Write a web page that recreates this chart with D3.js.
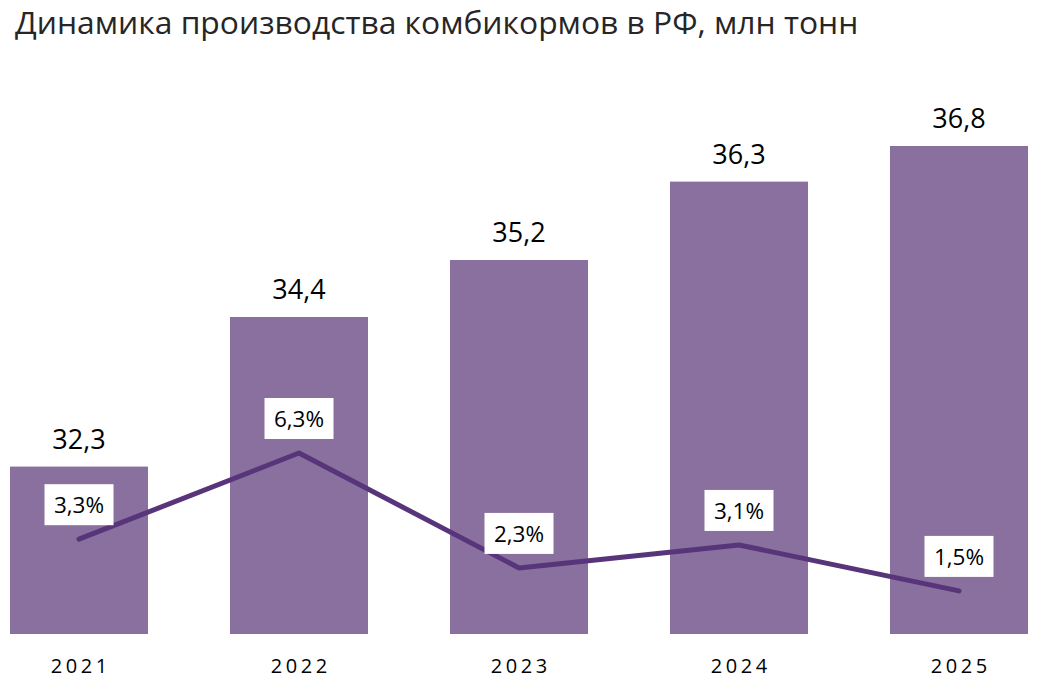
<!DOCTYPE html>
<html><head><meta charset="utf-8">
<script src="https://cdn.jsdelivr.net/npm/d3@7/dist/d3.min.js"></script>
<style>
html,body{margin:0;padding:0;background:#fff;}
svg{display:block;font-family:"Open Sans",sans-serif;}
</style></head>
<body>
<svg id="c" width="1037" height="689"></svg>
<script>
const title = "Динамика производства комбикормов в РФ, млн тонн";
const years = ["2021","2022","2023","2024","2025"];
const volumes = [32.3, 34.4, 35.2, 36.3, 36.8];
const growth = [3.3, 6.3, 2.3, 3.1, 1.5];

const fmt = v => String(v).replace(".", ",");
const svg = d3.select("#c");

const x = d3.scaleBand().domain(years).range([-31, 1069]).paddingInner(0.3727).paddingOuter(0.1864);
const y = d3.scaleLinear().domain([29.95, 36.8]).range([634, 146]);
const y2 = d3.scaleLinear().domain([0, 6.3]).range([634, 453]);

svg.append("text").attr("x", 15).attr("y", 34)
  .attr("font-size", 31.8).attr("fill", "#262626").text(title);

svg.append("g").selectAll("rect").data(years).join("rect")
  .attr("x", d => x(d)).attr("width", x.bandwidth())
  .attr("y", (d,i) => y(volumes[i])).attr("height", (d,i) => y.range()[0] - y(volumes[i]))
  .attr("fill", "#8a709e");

svg.append("g").selectAll("text").data(years).join("text")
  .attr("x", d => x(d) + x.bandwidth()/2).attr("y", (d,i) => y(volumes[i]) - 18)
  .attr("text-anchor", "middle").attr("font-size", 27).attr("fill", "#000")
  .text((d,i) => fmt(volumes[i]));

const xAxis = svg.append("g").attr("transform", "translate(0,634)")
  .call(d3.axisBottom(x).tickSize(0).tickPadding(0));
xAxis.select(".domain").remove();
xAxis.selectAll("text").attr("y", 39).attr("dy", 0).attr("font-size", 20)
  .attr("font-family", '"Open Sans",sans-serif').attr("fill", "#000")
  .attr("letter-spacing", "3.6px").attr("dx", "1.8px");

const line = d3.line().x((d,i) => x(years[i]) + x.bandwidth()/2).y(d => y2(d));
svg.append("path").datum(growth).attr("d", line)
  .attr("fill", "none").attr("stroke", "#58357b").attr("stroke-width", 5)
  .attr("stroke-linecap", "round").attr("stroke-linejoin", "round");

const lab = svg.append("g").selectAll("g").data(growth).join("g")
  .attr("transform", (d,i) => `translate(${x(years[i]) + x.bandwidth()/2},${y2(d)})`);
lab.append("rect").attr("x", -34.5).attr("y", -55).attr("width", 69).attr("height", 41).attr("fill", "#fff");
lab.append("text").attr("y", -26).attr("text-anchor", "middle").attr("font-size", 22.5)
  .attr("fill", "#000").text(d => fmt(d) + "%");
</script>
</body></html>
